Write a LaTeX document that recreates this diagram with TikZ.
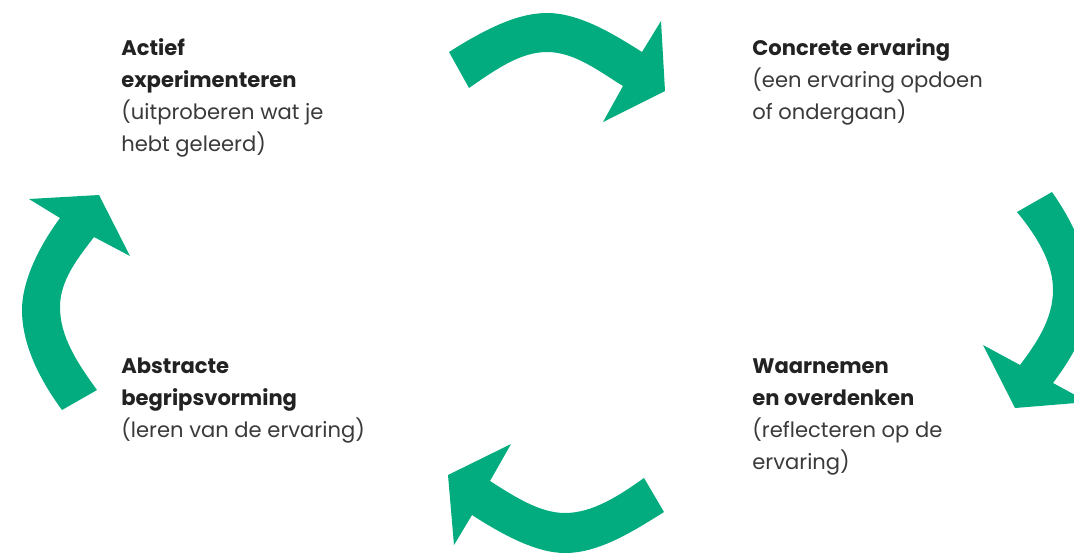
\documentclass[tikz,border=0pt]{standalone}
\usepackage{fontspec}
\setmainfont{Poppins}
\usepackage{xcolor}
\definecolor{cyclegreen}{RGB}{2,172,126}
\definecolor{headgray}{RGB}{34,34,34}
\definecolor{bodygray}{RGB}{58,58,58}

\begin{document}
\begin{tikzpicture}[x=0.2mm, y=-0.2mm,
  stage/.style={anchor=base west, inner sep=0pt, align=left,
                font=\fontsize{12}{18.2}\selectfont, text=bodygray},
  turn/.style={fill=cyclegreen}]
  \useasboundingbox (0,0) rectangle (1074,553);
  \clip (0,0) rectangle (1074,553);

  % the four stages (anchored on the last line)
  \node[stage] (actief) at (121,151)
    {\textcolor{headgray}{\textbf{Actief}}\\ \textcolor{headgray}{\textbf{experimenteren}}\\ (uitproberen wat je\\ hebt geleerd)};
  \node[stage] (concreet) at (752,119)
    {\textcolor{headgray}{\textbf{Concrete ervaring}}\\ (een ervaring opdoen\\ of ondergaan)};
  \node[stage] (waarnemen) at (752,469)
    {\textcolor{headgray}{\textbf{Waarnemen}}\\ \textcolor{headgray}{\textbf{en overdenken}}\\ (reflecteren op de\\ ervaring)};
  \node[stage] (abstract) at (121,437)
    {\textcolor{headgray}{\textbf{Abstracte}}\\ \textcolor{headgray}{\textbf{begripsvorming}}\\ (leren van de ervaring)};

  % top arrow
  \fill[turn] (449,52) .. controls (490,26) and (520,13) .. (547,13)
    .. controls (580,13) and (615,35) .. (642,52)
    -- (661,21) -- (665,91) -- (603,122) -- (623,86)
    .. controls (600,72) and (575,52) .. (547,52)
    .. controls (520,52) and (495,70) .. (469,88) -- cycle;
  % right arrow
  \fill[turn] (1052,192) .. controls (1075,225) and (1090,260) .. (1090,292)
    .. controls (1090,330) and (1070,360) .. (1053,383)
    -- (1088,402) -- (1015,408) -- (983,345) -- (1020,365)
    .. controls (1035,345) and (1053,320) .. (1053,290)
    .. controls (1053,265) and (1040,240) .. (1017,212) -- cycle;
  % bottom arrow
  \fill[turn] (644,478) .. controls (620,495) and (593,513) .. (565,513)
    .. controls (540,513) and (515,497) .. (490,481)
    -- (511,444) -- (448,475) -- (454,545) -- (472,515)
    .. controls (500,533) and (535,553) .. (565,553)
    .. controls (600,553) and (635,530) .. (664,512) -- cycle;
  % left arrow
  \fill[turn] (62,410) -- (97,390)
    .. controls (75,360) and (60,335) .. (60,307)
    .. controls (60,280) and (78,258) .. (94,237)
    -- (130,256) -- (99,195) -- (29,199) -- (60,218)
    .. controls (40,245) and (22,280) .. (22,310)
    .. controls (22,345) and (40,380) .. (62,410) -- cycle;
\end{tikzpicture}
\end{document}
